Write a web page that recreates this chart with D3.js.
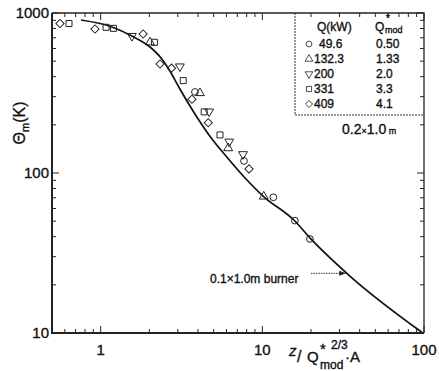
<!DOCTYPE html>
<html>
<head>
<meta charset="utf-8">
<script src="https://cdn.jsdelivr.net/npm/d3@7"></script>
<style>
  body { margin: 0; background: #fff; }
  svg { display: block; }
  text { font-family: "Liberation Sans", Arial, sans-serif; fill: #111; }
  .heavy { stroke: #111; stroke-width: 0.35; }
</style>
</head>
<body>
<div id="chart"></div>
<script>
// correlation curve for the 0.1 x 1.0 m burner
const curveX = [0.755, 1.175, 1.56, 2.02, 2.39, 2.68, 3.09, 3.83, 4.74, 5.87, 8.03, 10.1, 15.9, 19.7, 34.8, 97];
const curveY = [904, 818, 718, 613, 516, 434, 335, 234, 170, 130, 90.4, 71.8, 50.1, 39.3, 22.7, 10.1];

// measured points, one array per heat release rate
const q496 = [[3.83, 321], [7.70, 119], [11.7, 70.5], [15.9, 50.4], [19.7, 38.7]];
const q1323 = [[2.02, 656], [4.11, 316], [6.15, 143], [10.2, 71.3]];
const q200 = [[1.56, 718], [3.09, 463], [4.69, 242], [6.24, 157], [7.59, 131]];
const q331 = [[0.637, 860], [1.08, 814], [1.2, 802], [2.15, 656], [3.24, 378], [4.37, 241], [5.47, 173]];
const q409 = [[0.56, 860], [0.922, 794], [1.83, 739], [2.33, 480], [2.74, 452], [3.67, 289], [4.63, 206], [8.27, 106]];

const legendQ = ["49.6", "132.3", "200", "331", "409"];
const legendQmod = ["0.50", "1.33", "2.0", "3.3", "4.1"];

const xTicks = [1, 10, 100];
const yTicks = [10, 100, 1000];

const width = 439, height = 371;
const margin = {top: 13, right: 15, bottom: 38, left: 52};

const svg = d3.select("#chart").append("svg")
    .attr("width", width)
    .attr("height", height);

const x = d3.scaleLog().domain([0.5, 100]).range([margin.left, width - margin.right]);
const y = d3.scaleLog().domain([10, 1000]).range([height - margin.bottom, margin.top]);

const x0 = x.range()[0], x1 = x.range()[1];
const y0 = y.range()[0], y1 = y.range()[1];

// minor + major ticks
function tickValues(domain) {
    const out = [];
    for (let p = -1; p <= 3; p++) {
        for (let m = 1; m <= 9; m++) {
            const v = m * Math.pow(10, p);
            if (v >= domain[0] - 1e-9 && v <= domain[1] + 1e-9) out.push({v: v, major: m === 1});
        }
    }
    return out;
}

const ticks = svg.append("g").attr("stroke", "#222").attr("stroke-width", 1);
tickValues(x.domain()).forEach(t => {
    const len = t.major ? 7 : 4;
    const px = x(t.v);
    ticks.append("line").attr("x1", px).attr("x2", px).attr("y1", y0).attr("y2", y0 - len);
    ticks.append("line").attr("x1", px).attr("x2", px).attr("y1", y1).attr("y2", y1 + len);
});
tickValues(y.domain()).forEach(t => {
    const len = t.major ? 7 : 4;
    const py = y(t.v);
    ticks.append("line").attr("y1", py).attr("y2", py).attr("x1", x0).attr("x2", x0 + len);
    ticks.append("line").attr("y1", py).attr("y2", py).attr("x1", x1).attr("x2", x1 - len);
});

// frame
svg.append("path")
    .attr("d", `M${x0},${y1}H${x1}V${y0}`)
    .attr("fill", "none").attr("stroke", "#222").attr("stroke-width", 1.3);
svg.append("path")
    .attr("d", `M${x0},${y1}V${y0}H${x1}`)
    .attr("fill", "none").attr("stroke", "#222").attr("stroke-width", 2);

// tick labels
svg.append("g").selectAll("text").data(xTicks).join("text")
    .attr("class", "heavy")
    .attr("x", d => x(d)).attr("y", y0 + 22)
    .attr("text-anchor", "middle").attr("font-size", 15)
    .text(d => d);
svg.append("g").selectAll("text").data(yTicks).join("text")
    .attr("class", "heavy")
    .attr("x", x0 - 3).attr("y", d => y(d) + 5)
    .attr("text-anchor", "end").attr("font-size", 15)
    .text(d => d);

// axis titles
const yt = svg.append("text")
    .attr("class", "heavy")
    .attr("transform", "translate(25,123) rotate(-90)")
    .attr("text-anchor", "middle").attr("font-size", 16);
yt.append("tspan").text("\u0398");
yt.append("tspan").attr("font-size", 11).attr("dy", 4).text("m");
yt.append("tspan").attr("dy", -4).text("(K)");

const xt = svg.append("g").attr("font-size", 15).attr("class", "heavy");
xt.append("text").attr("x", 289).attr("y", 356).attr("font-style", "italic").text("z");
xt.append("text").attr("x", 297).attr("y", 362).attr("font-size", 16).text("/");
xt.append("text").attr("x", 307).attr("y", 362).text("Q");
xt.append("text").attr("x", 320).attr("y", 354).attr("font-size", 15).text("*");
xt.append("text").attr("x", 331).attr("y", 349).attr("font-size", 12).text("2/3");
xt.append("text").attr("x", 320).attr("y", 369).attr("font-size", 12).text("mod");
xt.append("text").attr("x", 345).attr("y", 362).text("\u00b7A");

// curve
const line = d3.line()
    .x(d => x(d[0]))
    .y(d => y(d[1]))
    .curve(d3.curveMonotoneX);
svg.append("path")
    .datum(d3.zip(curveX, curveY))
    .attr("d", line)
    .attr("fill", "none").attr("stroke", "#111").attr("stroke-width", 1.7);

// markers (diamond = square turned 45 degrees)
const series = [
    {data: q496, type: d3.symbolCircle, size: 36, rot: 0},
    {data: q1323, type: d3.symbolTriangle, size: 34, rot: 0},
    {data: q200, type: d3.symbolTriangle, size: 34, rot: 180},
    {data: q331, type: d3.symbolSquare, size: 36, rot: 0},
    {data: q409, type: d3.symbolSquare, size: 34, rot: 45}
];
series.forEach(s => {
    svg.append("g").selectAll("path").data(s.data).join("path")
        .attr("d", d3.symbol().type(s.type).size(s.size))
        .attr("transform", d => `translate(${x(d[0])},${y(d[1])}) rotate(${s.rot})`)
        .attr("fill", "none").attr("stroke", "#222").attr("stroke-width", 1);
});

// legend box
const lx = 295, ly = 115;
svg.append("path")
    .attr("d", `M${lx},${y1}V${ly}H${x1}`)
    .attr("fill", "none").attr("stroke", "#333").attr("stroke-width", 1)
    .attr("stroke-dasharray", "2,1");

const lg = svg.append("g").attr("font-size", 12).attr("class", "heavy");
lg.append("text").attr("x", 317).attr("y", 31).text("Q(kW)");
lg.append("text").attr("x", 375).attr("y", 31).text("Q");
lg.append("text").attr("x", 386).attr("y", 22).attr("font-size", 10).text("*");
lg.append("text").attr("x", 385).attr("y", 33).attr("font-size", 9).text("mod");

legendQ.forEach((q, i) => {
    const by = 48 + i * 15;
    const s = series[i];
    lg.append("path")
        .attr("d", d3.symbol().type(s.type).size(s.size * 0.75))
        .attr("transform", `translate(309,${by - 4}) rotate(${s.rot})`)
        .attr("fill", "none").attr("stroke", "#222").attr("stroke-width", 0.8);
    lg.append("text").attr("x", i === 0 ? 319 : 314).attr("y", by).text(q);
    lg.append("text").attr("x", 376).attr("y", by).text(legendQmod[i]);
});

const size = svg.append("text").attr("class", "heavy").attr("x", 342).attr("y", 134).attr("font-size", 14);
size.append("tspan").text("0.2");
size.append("tspan").attr("font-size", 9).text("\u00d7");
size.append("tspan").text("1.0");
size.append("tspan").attr("font-size", 9).text(" m");

// burner annotation
const tipX = x(33), tipY = y(23.6);
svg.append("text").attr("x", 210).attr("y", 283).attr("font-size", 12)
    .attr("class", "heavy")
    .text("0.1\u00d71.0m  burner");
svg.append("line")
    .attr("x1", 311).attr("x2", tipX - 5).attr("y1", tipY).attr("y2", tipY)
    .attr("stroke", "#333").attr("stroke-width", 1).attr("stroke-dasharray", "1.5,1");
svg.append("path")
    .attr("d", `M${tipX},${tipY}l-7,-2.5v5z`)
    .attr("fill", "#222");
</script>
</body>
</html>
